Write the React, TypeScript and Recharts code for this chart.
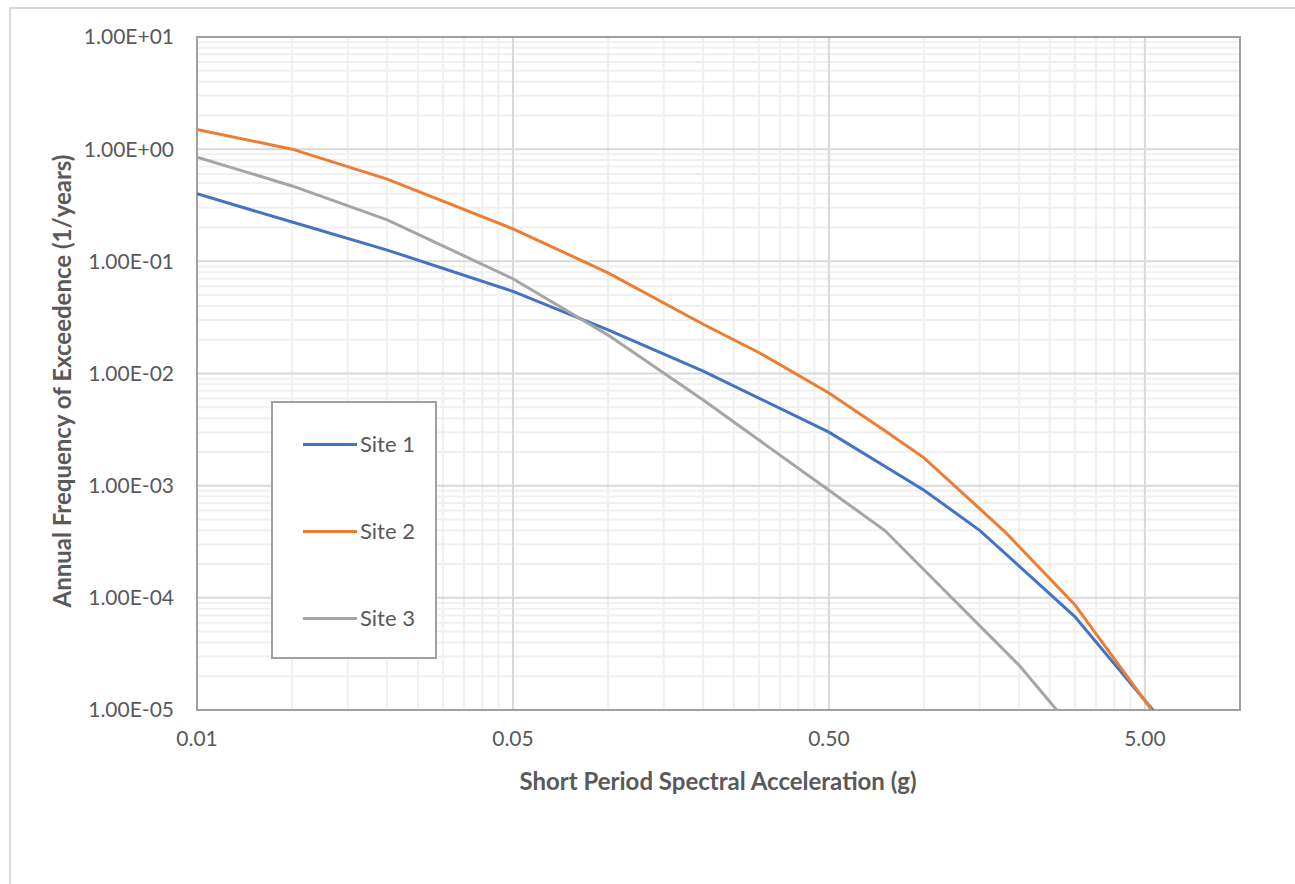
import React from 'react';
import { LineChart, Line, XAxis, YAxis, CartesianGrid, Legend, ReferenceArea } from 'recharts';

// acceleration (g) vs annual frequency of exceedance
const site1Accel = [0.005, 0.01, 0.02, 0.05, 0.1, 0.2, 0.5, 1.0, 1.5, 3.0, 5.3];
const site1Freq = [0.4, 0.224, 0.126, 0.054, 0.0245, 0.0105, 0.003, 0.00091, 0.0004, 0.000068, 0.00001];

const site2Accel = [0.005, 0.01, 0.02, 0.05, 0.1, 0.2, 0.3, 0.5, 0.75, 1.0, 1.8, 3.0, 5.25];
const site2Freq = [1.5, 1.0, 0.54, 0.195, 0.079, 0.0275, 0.0154, 0.0067, 0.0031, 0.00177, 0.00039, 0.000087, 0.00001];

const site3Accel = [0.005, 0.01, 0.02, 0.05, 0.1, 0.2, 0.5, 0.75, 2.0, 2.63];
const site3Freq = [0.85, 0.47, 0.234, 0.07, 0.022, 0.0058, 0.00091, 0.0004, 0.000025, 0.00001];

const xTicks = [0.005, 0.05, 0.5, 5];
const xTickLabels = ['0.01', '0.05', '0.50', '5.00'];
const yTicks = [1e-5, 1e-4, 1e-3, 1e-2, 1e-1, 1, 10];
const yTickLabels = ['1.00E-05', '1.00E-04', '1.00E-03', '1.00E-02', '1.00E-01', '1.00E+00', '1.00E+01'];

const toPoints = (xs: number[], ys: number[]) => xs.map((x, i) => ({ x, y: ys[i] }));

// minor gridlines, excel style (2..9 x each major step)
const minorX: number[] = [];
for (const base of [0.005, 0.05, 0.5]) for (let k = 2; k <= 9; k++) minorX.push(base * k);
const minorY: number[] = [];
for (let e = -5; e < 1; e++) for (let k = 2; k <= 9; k++) minorY.push(k * Math.pow(10, e));

const TEXT = '#595959';

function LegendBox({ payload }: any) {
  return (
    <div
      style={{
        width: 162,
        height: 254,
        border: '2px solid #a0a0a0',
        background: '#fff',
        position: 'relative',
      }}
    >
      {(payload || []).map((p: any, i: number) => (
        <div
          key={p.value}
          style={{ position: 'absolute', left: 30, top: 27 + i * 87, height: 28, display: 'flex', alignItems: 'center' }}
        >
          <span style={{ display: 'inline-block', width: 54, height: 3, background: p.color }} />
          <span style={{ marginLeft: 3, fontSize: 22, color: TEXT, lineHeight: '28px' }}>{p.value}</span>
        </div>
      ))}
    </div>
  );
}

export default function App() {
  const tick = { fill: TEXT, fontSize: 21, fontFamily: 'Lato' };
  return (
    <div
      style={{
        position: 'fixed',
        left: 0,
        top: 0,
        width: 1295,
        height: 884,
        overflow: 'hidden',
        background: '#fff',
        fontFamily: 'Lato',
      }}
    >
      <div
        style={{
          position: 'absolute',
          left: 9,
          top: 7,
          width: 1400,
          height: 1000,
          borderTop: '2px solid #d9d9d9',
          borderLeft: '2px solid #d9d9d9',
        }}
      />
      <LineChart
        width={1295}
        height={884}
        margin={{ top: 37, right: 55, left: 97, bottom: 114 }}
        style={{ position: 'absolute', left: 0, top: 0 }}
      >
        <CartesianGrid stroke="#f0f0f0" strokeWidth={2} verticalValues={minorX} horizontalValues={minorY} />
        <CartesianGrid stroke="#d9d9d9" strokeWidth={2} verticalValues={xTicks} horizontalValues={yTicks} />
        <XAxis
          dataKey="x"
          type="number"
          scale="log"
          domain={[0.005, 10]}
          allowDataOverflow
          ticks={xTicks}
          interval={0}
          tickFormatter={(v: number) => xTickLabels[xTicks.indexOf(v)] ?? ''}
          tick={tick}
          tickLine={false}
          axisLine={false}
          tickSize={0}
          tickMargin={21}
          height={60}
        />
        <YAxis
          dataKey="y"
          type="number"
          scale="log"
          domain={[1e-5, 10]}
          allowDataOverflow
          ticks={yTicks}
          interval={0}
          tickFormatter={(v: number) => yTickLabels[yTicks.indexOf(v)] ?? ''}
          tick={tick}
          tickLine={false}
          axisLine={false}
          tickSize={0}
          tickMargin={23}
          width={100}
        />
        <ReferenceArea x1={0.005} x2={10} y1={1e-5} y2={10} fill="none" stroke="#a0a0a0" strokeWidth={2} />
        <Line
          data={toPoints(site1Accel, site1Freq)}
          dataKey="y"
          name="Site 1"
          stroke="#4472C4"
          strokeWidth={3}
          dot={false}
          isAnimationActive={false}
        />
        <Line
          data={toPoints(site2Accel, site2Freq)}
          dataKey="y"
          name="Site 2"
          stroke="#ED7D31"
          strokeWidth={3}
          dot={false}
          isAnimationActive={false}
        />
        <Line
          data={toPoints(site3Accel, site3Freq)}
          dataKey="y"
          name="Site 3"
          stroke="#A5A5A5"
          strokeWidth={3}
          dot={false}
          isAnimationActive={false}
        />
        <Legend
          layout="vertical"
          align="center"
          verticalAlign="middle"
          content={(props: any) => <LegendBox payload={props.payload} />}
          wrapperStyle={{ left: 271, top: 401, width: 166, height: 258 }}
        />
      </LineChart>
      <div
        style={{
          position: 'absolute',
          left: 418,
          width: 600,
          top: 766,
          textAlign: 'center',
          fontWeight: 700,
          fontSize: 24,
          color: TEXT,
        }}
      >
        Short Period Spectral Acceleration (g)
      </div>
      <div
        style={{
          position: 'absolute',
          left: 62 - 300,
          top: 381 - 15,
          width: 600,
          height: 30,
          lineHeight: '30px',
          textAlign: 'center',
          fontWeight: 700,
          fontSize: 24,
          color: TEXT,
          transform: 'rotate(-90deg)',
        }}
      >
        Annual Frequency of Exceedence (1/years)
      </div>
    </div>
  );
}
